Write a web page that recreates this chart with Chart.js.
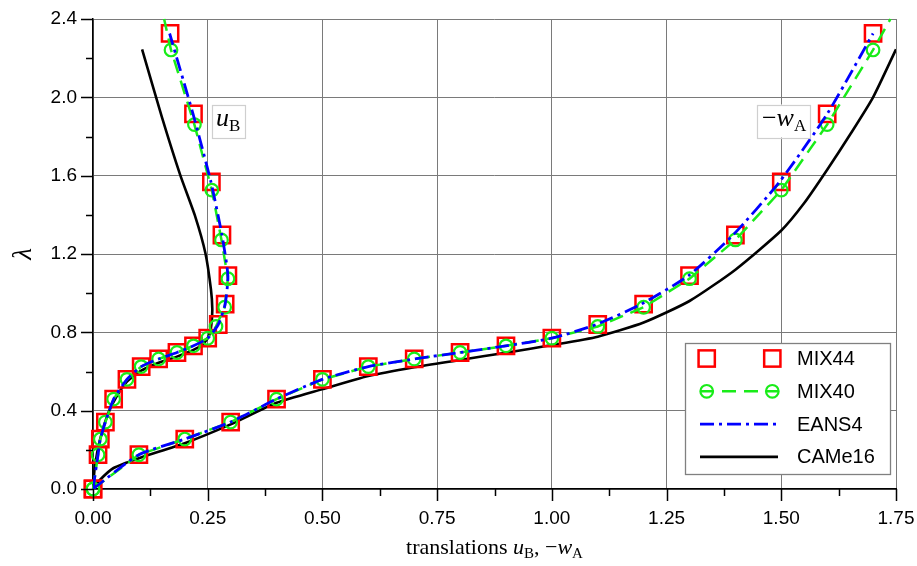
<!DOCTYPE html>
<html>
<head>
<meta charset="utf-8">
<script src="https://cdn.jsdelivr.net/npm/chart.js@4.4.0/dist/chart.umd.min.js"></script>
<style>
html,body{margin:0;padding:0;background:#fff;}
#wrap{width:917px;height:566px;position:relative;}
</style>
</head>
<body>
<div id="wrap"><canvas id="c" width="917" height="566"></canvas></div>
<script>
// ---------- tick values ----------
const xTickValues = [0, 0.25, 0.5, 0.75, 1.0, 1.25, 1.5, 1.75];
const yTickValues = [0, 0.4, 0.8, 1.2, 1.6, 2.0, 2.4];

// ---------- series names ----------
const seriesNames = ['MIX44', 'MIX40', 'EANS4', 'CAMe16'];

// ---------- MIX44 (squares) ----------
const mix44Lambda = [0, 0.175, 0.255, 0.342, 0.459, 0.56, 0.625, 0.664, 0.697, 0.731, 0.77, 0.84, 0.944, 1.09, 1.297, 1.568, 1.915, 2.326];
const mix44UB     = [0, 0.011, 0.016, 0.027, 0.045, 0.074, 0.105, 0.143, 0.183, 0.219, 0.25, 0.273, 0.288, 0.294, 0.281, 0.258, 0.219, 0.168];
const mix44WA     = [0, 0.1, 0.2, 0.3, 0.4, 0.5, 0.6, 0.7, 0.8, 0.9, 1.0, 1.1, 1.2, 1.3, 1.4, 1.5, 1.6, 1.7];

// ---------- MIX40 (circles, dashed) ----------
const mix40Lambda = [0, 0.175, 0.255, 0.342, 0.459, 0.56, 0.625, 0.664, 0.697, 0.731, 0.77, 0.83, 0.928, 1.074, 1.272, 1.526, 1.861, 2.242];
const mix40UB     = [0, 0.011, 0.016, 0.027, 0.045, 0.074, 0.105, 0.143, 0.183, 0.219, 0.25, 0.268, 0.287, 0.294, 0.28, 0.259, 0.221, 0.17];
const mix40WA     = [0, 0.1, 0.2, 0.3, 0.4, 0.5, 0.6, 0.7, 0.8, 0.9, 1.0, 1.1, 1.2, 1.3, 1.4, 1.5, 1.6, 1.7];
const mix40TailUB = [0.155, 2.4];   // line continues (no marker)
const mix40TailWA = [1.738, 2.4];

// ---------- EANS4 (dash-dot) ----------
const eans4Lambda = [0, 0.175, 0.255, 0.342, 0.459, 0.56, 0.625, 0.664, 0.697, 0.731, 0.77, 0.84, 0.944, 1.09, 1.297, 1.568, 1.915, 2.326];
const eans4UB     = [0, 0.011, 0.016, 0.027, 0.045, 0.074, 0.105, 0.143, 0.183, 0.219, 0.25, 0.273, 0.288, 0.294, 0.281, 0.257, 0.218, 0.167];
const eans4WA     = [0, 0.1, 0.2, 0.3, 0.4, 0.5, 0.6, 0.7, 0.8, 0.9, 1.0, 1.097, 1.195, 1.298, 1.395, 1.496, 1.6, 1.7];

// ---------- CAMe16 (solid black) ----------
const cameUBLambda = [0, 0.114, 0.25, 0.387, 0.471, 0.548, 0.604, 0.645, 0.676, 0.71, 0.745, 0.785, 0.84, 0.92, 1.02, 1.204, 1.39, 1.604, 1.9, 2.245];
const cameUB       = [0, 0.004, 0.015, 0.033, 0.051, 0.074, 0.105, 0.143, 0.183, 0.219, 0.242, 0.253, 0.258, 0.26, 0.257, 0.245, 0.223, 0.19, 0.15, 0.107];
const cameWALambda = [0, 0.046, 0.106, 0.157, 0.234, 0.33, 0.44, 0.51, 0.577, 0.622, 0.659, 0.696, 0.735, 0.778, 0.85, 0.96, 1.12, 1.32, 1.46, 1.63, 1.81, 2.0, 2.245];
const cameWA       = [0, 0.015, 0.044, 0.1, 0.2, 0.3, 0.4, 0.5, 0.6, 0.7, 0.8, 0.9, 1.0, 1.1, 1.2, 1.3, 1.4, 1.5, 1.55, 1.6, 1.65, 1.7, 1.75];

// ---------- curve labels (data coordinates) ----------
const curveLabelUB = {x: 0.2946, y: 1.879};
const curveLabelWA = {x: 1.506, y: 1.879};

// ---------- helpers ----------
const SANS = '"Liberation Sans", Arial, sans-serif';
const SERIF = '"Liberation Serif", "Times New Roman", serif';
const GAP = {x: null, y: null};
function pts(xs, ls) { return xs.map((x, i) => ({x: x, y: ls[i]})); }
function branches(a, b) { return a.concat([GAP], b); }

const RED = '#ff0000', GREEN = '#19ec19', BLUE = '#0000ff', BLACK = '#000000';

const mix40Data = branches(
  pts(mix40UB, mix40Lambda).concat([{x: mix40TailUB[0], y: mix40TailUB[1], tail: true}]),
  pts(mix40WA, mix40Lambda).concat([{x: mix40TailWA[0], y: mix40TailWA[1], tail: true}])
);

const datasets = [
  {
    label: seriesNames[0],
    data: branches(pts(mix44UB, mix44Lambda), pts(mix44WA, mix44Lambda)),
    showLine: false,
    pointStyle: 'rect',
    pointRadius: 11.5,
    pointBorderWidth: 2.5,
    pointBorderColor: RED,
    pointBackgroundColor: 'rgba(0,0,0,0)',
    borderColor: RED,
    clip: false,
    order: 2
  },
  {
    label: seriesNames[1],
    data: mix40Data,
    showLine: true,
    spanGaps: false,
    borderColor: GREEN,
    borderWidth: 2.5,
    borderDash: [14, 8],
    tension: 0,
    pointStyle: 'circle',
    pointRadius: (c) => (c.raw && c.raw.tail) ? 0 : 6.3,
    pointBorderWidth: 2.2,
    pointBorderColor: GREEN,
    pointBackgroundColor: 'rgba(0,0,0,0)',
    clip: false,
    order: 1
  },
  {
    label: seriesNames[2],
    data: branches(pts(eans4UB, eans4Lambda), pts(eans4WA, eans4Lambda)),
    showLine: true,
    spanGaps: false,
    borderColor: BLUE,
    borderWidth: 2.8,
    borderDash: [14, 5, 3, 5],
    tension: 0.2,
    pointRadius: 0,
    order: 0
  },
  {
    label: seriesNames[3],
    data: branches(pts(cameUB, cameUBLambda), pts(cameWA, cameWALambda)),
    showLine: true,
    spanGaps: false,
    borderColor: BLACK,
    borderWidth: 2.6,
    tension: 0.2,
    pointRadius: 0,
    order: 3
  }
];

// ---------- rich text ----------
function drawRich(ctx, parts, x, y, align) {
  const base = parts.size || 22;
  const items = parts.list.map(([t, k]) => {
    let font, dy = 0;
    if (k === 'i') font = 'italic ' + base + 'px ' + SERIF;
    else if (k === 's') { font = Math.round(base * 0.66) + 'px ' + SERIF; dy = base * 0.2; }
    else font = base + 'px ' + SERIF;
    ctx.font = font;
    return {t, font, dy, w: ctx.measureText(t).width};
  });
  const total = items.reduce((s, it) => s + it.w, 0);
  let cx = align === 'center' ? x - total / 2 : x;
  ctx.textBaseline = 'alphabetic';
  ctx.textAlign = 'left';
  items.forEach(it => { ctx.font = it.font; ctx.fillText(it.t, cx, y + it.dy); cx += it.w; });
  return total;
}

// ---------- decoration plugin ----------
const decor = {
  id: 'decor',
  afterDatasetsDraw(chart) {
    const ctx = chart.ctx, a = chart.chartArea;
    const xs = chart.scales.x, ys = chart.scales.y;
    ctx.save();
    ctx.strokeStyle = '#000';
    ctx.lineWidth = 1.5;
    ctx.beginPath();
    xTickValues.forEach((v, i) => {
      const px = Math.round(xs.getPixelForValue(v)) + 0.5;
      ctx.moveTo(px, a.bottom); ctx.lineTo(px, a.bottom + 12);
      if (i < xTickValues.length - 1) {
        const m = Math.round(xs.getPixelForValue((v + xTickValues[i + 1]) / 2)) + 0.5;
        ctx.moveTo(m, a.bottom); ctx.lineTo(m, a.bottom + 7);
      }
    });
    yTickValues.forEach((v, i) => {
      const py = Math.round(ys.getPixelForValue(v)) + 0.5;
      ctx.moveTo(a.left - 12, py); ctx.lineTo(a.left, py);
      if (i < yTickValues.length - 1) {
        const m = Math.round(ys.getPixelForValue((v + yTickValues[i + 1]) / 2)) + 0.5;
        ctx.moveTo(a.left - 7, m); ctx.lineTo(a.left, m);
      }
    });
    ctx.stroke();

    const labelBox = (pos, list) => {
      const cx = xs.getPixelForValue(pos.x), cy = ys.getPixelForValue(pos.y);
      let w = 0;
      const spec = {size: 26, list};
      spec.list.forEach(([t, k]) => {
        ctx.font = k === 'i' ? 'italic 26px ' + SERIF : (k === 's' ? '17px ' + SERIF : '26px ' + SERIF);
        w += ctx.measureText(t).width;
      });
      const bw = w + 9, bh = 33;
      ctx.fillStyle = '#fff';
      ctx.fillRect(cx - bw / 2, cy - bh / 2, bw, bh);
      ctx.strokeStyle = '#cfcfcf';
      ctx.lineWidth = 1.2;
      ctx.strokeRect(Math.round(cx - bw / 2) + 0.5, Math.round(cy - bh / 2) + 0.5, Math.round(bw), bh);
      ctx.fillStyle = '#000';
      drawRich(ctx, spec, cx, cy + 5, 'center');
    };
    labelBox(curveLabelUB, [['u', 'i'], ['B', 's']]);
    labelBox(curveLabelWA, [['\u2212', 'n'], ['w', 'i'], ['A', 's']]);

    ctx.fillStyle = '#000';
    drawRich(ctx, {size: 22, list: [['translations ', 'n'], ['u', 'i'], ['B', 's'], [', \u2212', 'n'], ['w', 'i'], ['A', 's']]},
      (a.left + a.right) / 2, 554, 'center');
    ctx.save();
    ctx.translate(24, (a.top + a.bottom) / 2);
    ctx.rotate(-Math.PI / 2);
    ctx.font = 'italic 27px ' + SERIF;
    ctx.textAlign = 'center';
    ctx.textBaseline = 'middle';
    ctx.fillText('\u03bb', 0, 0);
    ctx.restore();
    ctx.restore();
  },
  afterDraw(chart) {
    const ctx = chart.ctx, a = chart.chartArea;
    const w = 205, h = 131;
    const x0 = a.right - 6 - w, y0 = a.bottom - 15 - h;
    ctx.save();
    ctx.fillStyle = '#fff';
    ctx.fillRect(x0, y0, w, h);
    ctx.strokeStyle = '#808080';
    ctx.lineWidth = 1.3;
    ctx.strokeRect(Math.round(x0) + 0.5, Math.round(y0) + 0.5, w, h);
    const rowH = 32.8;
    const sx0 = x0 + 15, sx1 = x0 + 93;
    const mk0 = x0 + 21.7, mk1 = x0 + 87.3;
    datasets.forEach((ds, i) => {
      const cy = y0 + 15.5 + i * rowH;
      ctx.setLineDash([]);
      if (ds.showLine) {
        ctx.strokeStyle = ds.borderColor;
        ctx.lineWidth = ds.borderWidth;
        ctx.setLineDash(ds.borderDash || []);
        ctx.beginPath();
        ctx.moveTo(sx0, cy); ctx.lineTo(sx1, cy);
        ctx.stroke();
        ctx.setLineDash([]);
      }
      if (ds.pointStyle === 'rect') {
        const s = ds.pointRadius * Math.SQRT1_2;
        ctx.strokeStyle = ds.pointBorderColor; ctx.lineWidth = ds.pointBorderWidth;
        [mk0, mk1].forEach(m => ctx.strokeRect(m - s, cy - s, 2 * s, 2 * s));
      } else if (ds.pointStyle === 'circle') {
        ctx.strokeStyle = ds.pointBorderColor; ctx.lineWidth = ds.pointBorderWidth;
        [mk0, mk1].forEach(m => { ctx.beginPath(); ctx.arc(m, cy, 6.3, 0, Math.PI * 2); ctx.stroke(); });
      }
      ctx.fillStyle = '#000';
      ctx.font = '20px ' + SANS;
      ctx.textAlign = 'left';
      ctx.textBaseline = 'middle';
      ctx.fillText(ds.label, x0 + 112, cy + 1);
    });
    ctx.restore();
  }
};

const gridColor = '#7a7a7a';
function zeroPad(s) { s.paddingTop = 0; s.paddingBottom = 0; s.paddingLeft = 0; s.paddingRight = 0; }

new Chart(document.getElementById('c'), {
  type: 'scatter',
  data: {datasets},
  plugins: [decor],
  options: {
    responsive: false,
    animation: false,
    devicePixelRatio: 1,
    events: [],
    layout: {padding: {top: 19, right: 21, bottom: 0, left: 0}},
    plugins: {legend: {display: false}, tooltip: {enabled: false}, title: {display: false}},
    scales: {
      x: {
        type: 'linear', min: 0, max: 1.75,
        afterBuildTicks: (s) => { s.ticks = xTickValues.map(v => ({value: v})); },
        afterFit: (s) => { s.height = 77; zeroPad(s); },
        ticks: {
          callback: (v) => Number(v).toFixed(2),
          font: {family: SANS, size: 19}, color: '#000', padding: 18, maxRotation: 0, autoSkip: false
        },
        grid: {color: gridColor, lineWidth: 1, drawTicks: false},
        border: {display: true, color: '#000', width: 1.5}
      },
      y: {
        type: 'linear', min: 0, max: 2.4,
        afterBuildTicks: (s) => { s.ticks = yTickValues.map(v => ({value: v})); },
        afterFit: (s) => { s.width = 93; zeroPad(s); },
        ticks: {
          callback: (v) => Number(v).toFixed(1),
          font: {family: SANS, size: 19}, color: '#000', padding: 16, autoSkip: false
        },
        grid: {color: gridColor, lineWidth: 1, drawTicks: false},
        border: {display: true, color: '#000', width: 1.5}
      }
    }
  }
});
</script>
</body>
</html>
